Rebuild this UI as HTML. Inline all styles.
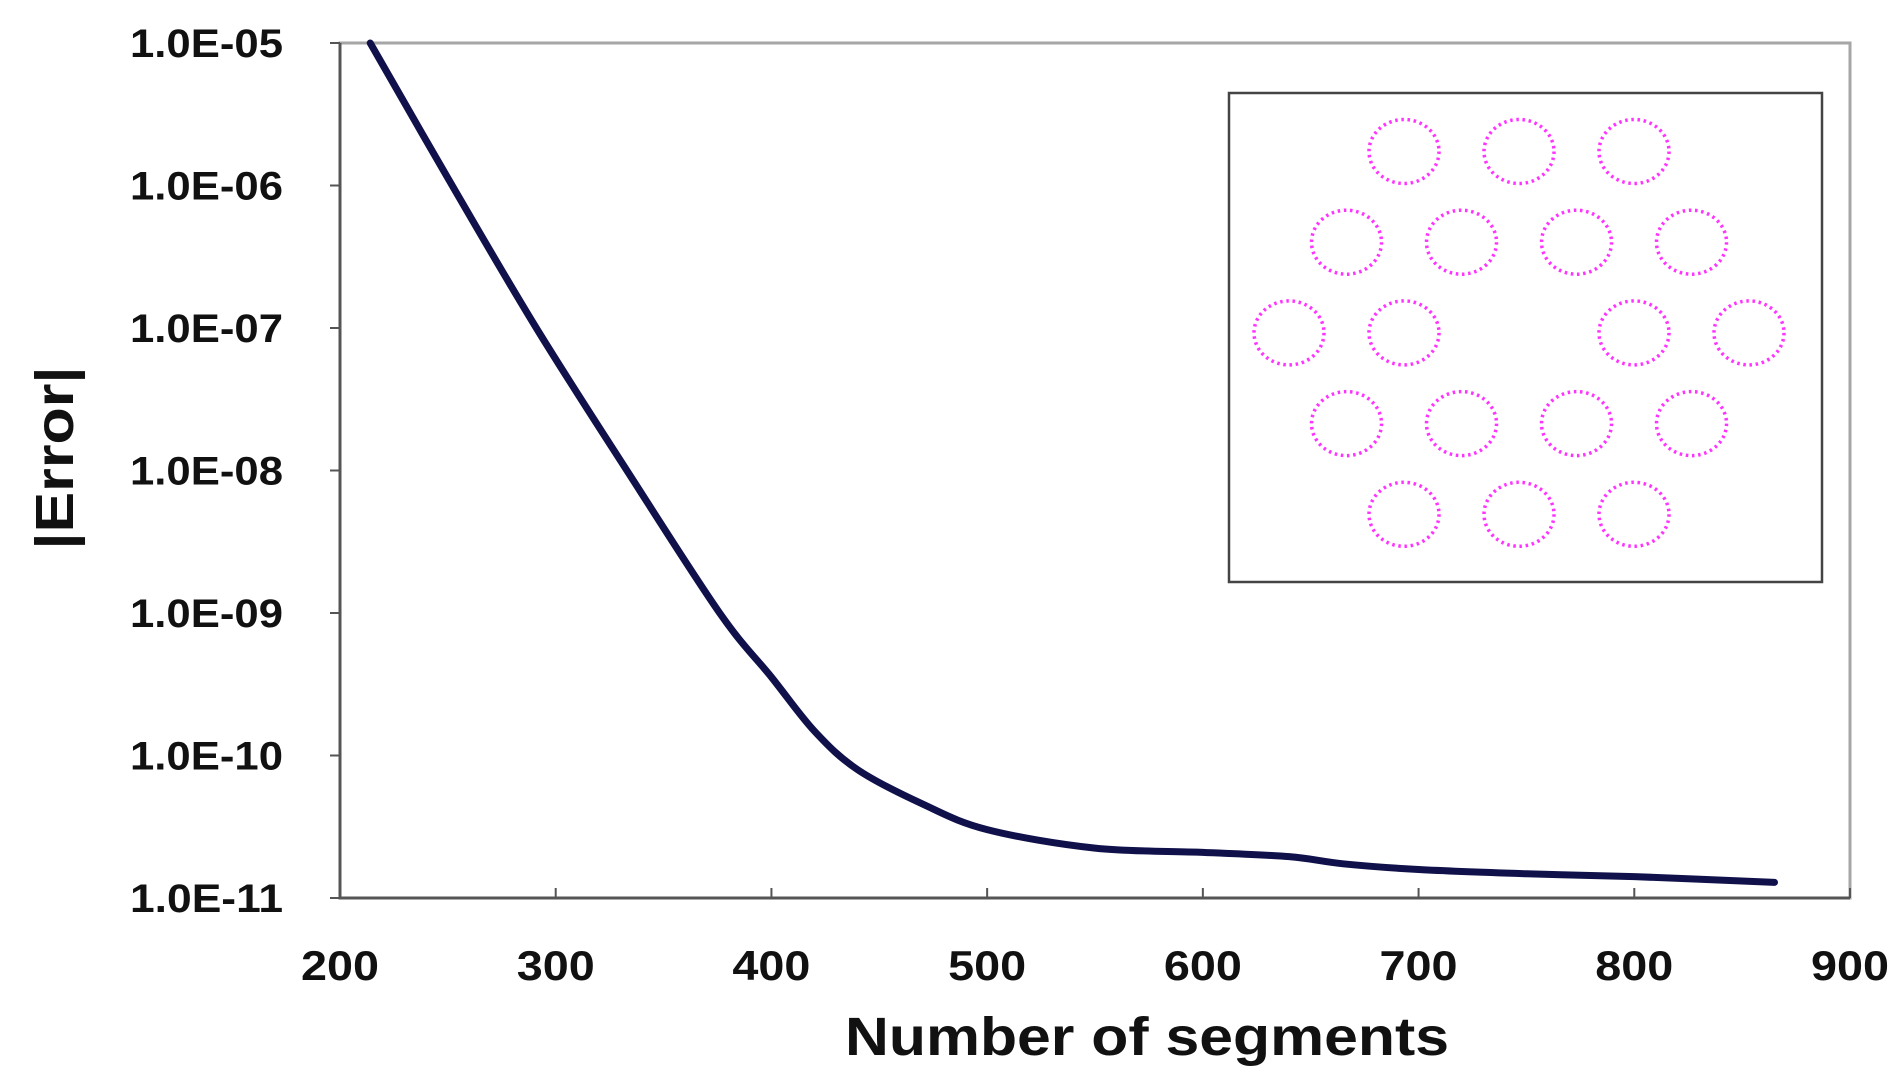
<!DOCTYPE html>
<html><head><meta charset="utf-8"><style>
html,body{margin:0;padding:0;background:#fff;}
svg{display:block;}
text{font-family:"Liberation Sans",sans-serif;font-weight:bold;fill:#111;}
</style></head><body>
<svg width="1903" height="1082" viewBox="0 0 1903 1082" xmlns="http://www.w3.org/2000/svg">
<g id="root"></g>
</svg>
<script>
const segments = [214, 252, 291, 333, 376, 400, 420, 440, 470, 500, 550, 600, 640, 665, 700, 750, 800, 865];
const logError = [-5.0, -6.0, -7.0, -8.0, -9.0, -9.45, -9.83, -10.1, -10.34, -10.52, -10.65, -10.68, -10.71, -10.76, -10.80, -10.83, -10.85, -10.89];
const xTicks = [200, 300, 400, 500, 600, 700, 800, 900];
const yTicks = [-5, -6, -7, -8, -9, -10, -11];
const yTickLabels = ["1.0E-05","1.0E-06","1.0E-07","1.0E-08","1.0E-09","1.0E-10","1.0E-11"];
const insetRows = [[0,1,2],[-0.5,0.5,1.5,2.5],[-1,0,2,3],[-0.5,0.5,1.5,2.5],[0,1,2]];

const NS="http://www.w3.org/2000/svg";
const root=document.getElementById('root');
const L=340,R=1850,T=43,B=898;
const xs=v=>L+(v-200)/700*(R-L);
const ys=v=>T+(-5-v)/6*(B-T);
function mk(tag,attrs,parent){const e=document.createElementNS(NS,tag);for(const k in attrs)e.setAttribute(k,attrs[k]);(parent||root).appendChild(e);return e;}

let fr=mk('rect',{x:L,y:T,width:R-L,height:B-T,fill:'none',stroke:'#a6a6a6','stroke-width':3});


let ax=mk('path',{d:`M${L},${T} V${B} H${R}`,fill:'none',stroke:'#555','stroke-width':3});



yTicks.forEach((v,i)=>{
  const y=ys(v);
  const t=mk('line',{x1:L-10,x2:L,y1:y,y2:y,stroke:'#555','stroke-width':2});
  
  
  const tx=mk('text',{x:283,y:y+14,'text-anchor':'end','font-size':40,textLength:153,lengthAdjust:'spacingAndGlyphs'});
  tx.textContent=yTickLabels[i];
  
  
});
xTicks.forEach(v=>{
  const x=xs(v);
  const t=mk('line',{x1:x,x2:x,y1:B-10,y2:B,stroke:'#555','stroke-width':2});
  
  
  const tx=mk('text',{x:x,y:980,'text-anchor':'middle','font-size':42,textLength:78,lengthAdjust:'spacingAndGlyphs'});
  tx.textContent=String(v);
  
  
});
let xt=mk('text',{x:1147,y:1055,'text-anchor':'middle','font-size':54,textLength:604,lengthAdjust:'spacingAndGlyphs'});
xt.textContent='Number of segments';


let yt=mk('text',{x:0,y:0,'text-anchor':'middle','font-size':54,transform:'translate(73,458) rotate(-90)',textLength:183,lengthAdjust:'spacingAndGlyphs'});
yt.textContent='|Error|';



const P=segments.map((s,i)=>[xs(s),ys(logError[i])]);
let d=`M${P[0][0]},${P[0][1]}`;
for(let i=0;i<P.length-1;i++){
  const p0=P[Math.max(0,i-1)],p1=P[i],p2=P[i+1],p3=P[Math.min(P.length-1,i+2)];
  const c1=[p1[0]+(p2[0]-p0[0])/6,p1[1]+(p2[1]-p0[1])/6];
  const c2=[p2[0]-(p3[0]-p1[0])/6,p2[1]-(p3[1]-p1[1])/6];
  d+=` C${c1[0]},${c1[1]} ${c2[0]},${c2[1]} ${p2[0]},${p2[1]}`;
}
let line=mk('path',{d:d,fill:'none',stroke:'#10104a','stroke-width':7,'stroke-linecap':'round','stroke-linejoin':'round'});



let ig=mk('g',{});


mk('rect',{x:1229,y:93,width:593,height:489,fill:'#fff',stroke:'#444','stroke-width':2.5},ig);
insetRows.forEach((row,r)=>{
  row.forEach(c=>{
    const cx=1404+c*115, cy=151.5+r*90.7;
    const e=mk('ellipse',{cx:cx,cy:cy,rx:35,ry:32,fill:'none',stroke:'#ff33ff','stroke-width':3.5,'stroke-dasharray':'2.5 3.7'},ig);
    
    
  });
});
</script>
</body></html>
